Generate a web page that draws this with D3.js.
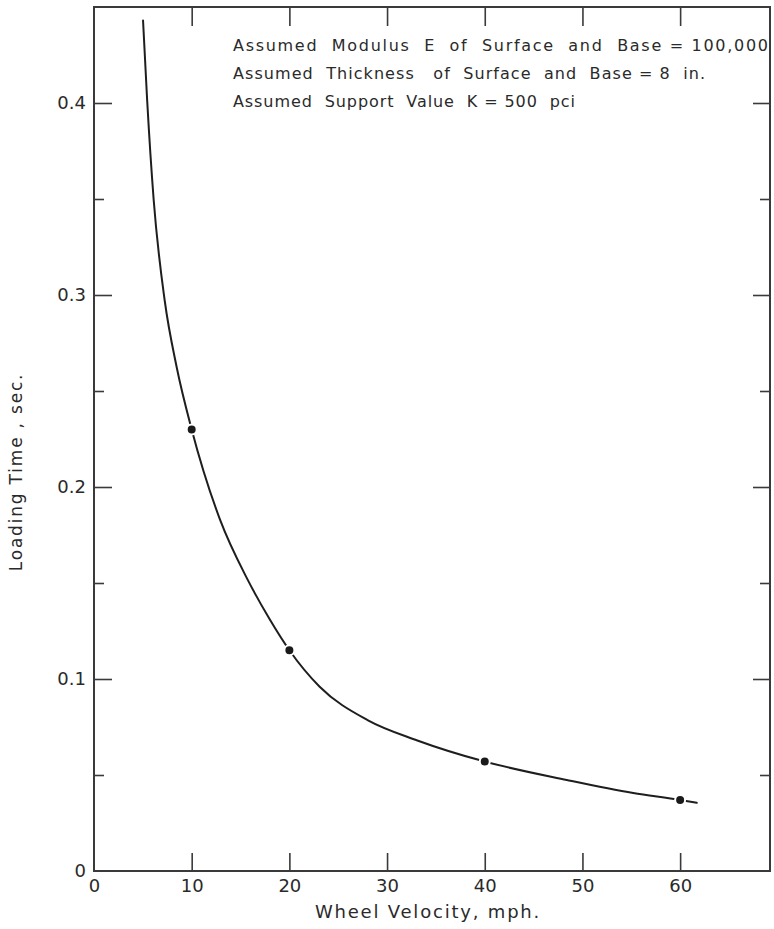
<!DOCTYPE html>
<html>
<head>
<meta charset="utf-8">
<script src="https://cdn.jsdelivr.net/npm/d3@7"></script>
<style>
  html, body { margin: 0; padding: 0; background: #fff; }
  svg text { font-family: "DejaVu Sans", sans-serif; fill: #2a2a2a; }
</style>
</head>
<body>
<svg id="chart" width="774" height="929"></svg>
<script>
// Loading time vs. wheel velocity (hand-faired curve through the computed points)
const curveVelocity = [5.02, 5.44, 6.11, 7.23, 8.46, 10.0, 12.9, 15.7, 18.0, 20.0, 23.1, 28.0, 33.1, 40.0, 48.4, 55.2, 60.0, 61.7];
const curveTime     = [0.443, 0.4016, 0.3495, 0.2974, 0.2625, 0.230, 0.183, 0.152, 0.131, 0.115, 0.096, 0.0786, 0.068, 0.057, 0.0474, 0.0406, 0.037, 0.0355];

const pointVelocity = [10, 20, 40, 60];
const pointTime     = [0.230, 0.115, 0.057, 0.037];

const xTicks = [0, 10, 20, 30, 40, 50, 60];
const yMajorTicks = [0, 0.1, 0.2, 0.3, 0.4];
const yMinorTicks = [0.05, 0.15, 0.25, 0.35];

const notes = [
  "Assumed  Modulus  E  of  Surface  and  Base = 100,000",
  "Assumed  Thickness   of  Surface  and  Base = 8  in.",
  "Assumed  Support  Value  K = 500  pci"
];

const svg = d3.select("#chart");
const plotLeft = 94, plotRight = 770, plotTop = 7, plotBottom = 871;

const x = d3.scaleLinear().domain([0, 69.2]).range([plotLeft, plotRight]);
const y = d3.scaleLinear().domain([0, 0.45]).range([plotBottom, plotTop]);

const axisColor = "#3a3a3a";

function styleAxis(g) {
  g.select(".domain").remove();
  g.selectAll(".tick line").attr("stroke", axisColor).attr("stroke-width", 1.6);
  g.selectAll(".tick text").attr("font-size", 18).attr("fill", "#2a2a2a")
    .style("font-family", "DejaVu Sans, sans-serif");
}

// bottom axis: inward ticks at 10..60, labels 0..60
svg.append("g")
  .attr("transform", `translate(0,${plotBottom})`)
  .call(d3.axisBottom(x).tickValues(xTicks).tickSize(-18).tickPadding(8).tickFormat(d3.format("d")))
  .call(styleAxis)
  .call(g => g.selectAll(".tick").filter(d => d === 0).select("line").remove());

// top axis: ticks only
svg.append("g")
  .attr("transform", `translate(0,${plotTop})`)
  .call(d3.axisTop(x).tickValues(xTicks.filter(d => d > 0)).tickSize(-19).tickFormat(""))
  .call(styleAxis);

// left axis: major with labels, minor without
svg.append("g")
  .attr("transform", `translate(${plotLeft},0)`)
  .call(d3.axisLeft(y).tickValues(yMajorTicks).tickSize(-18).tickPadding(8)
    .tickFormat(d => d === 0 ? "0" : d3.format(".1f")(d)))
  .call(styleAxis)
  .call(g => g.selectAll(".tick").filter(d => d === 0).select("line").remove());

svg.append("g")
  .attr("transform", `translate(${plotLeft},0)`)
  .call(d3.axisLeft(y).tickValues(yMinorTicks).tickSize(-10).tickFormat(""))
  .call(styleAxis);

// right axis: ticks only
svg.append("g")
  .attr("transform", `translate(${plotRight},0)`)
  .call(d3.axisRight(y).tickValues(yMajorTicks.filter(d => d > 0)).tickSize(-17).tickFormat(""))
  .call(styleAxis);

svg.append("g")
  .attr("transform", `translate(${plotRight},0)`)
  .call(d3.axisRight(y).tickValues(yMinorTicks).tickSize(-10).tickFormat(""))
  .call(styleAxis);

// frame
svg.append("rect")
  .attr("x", plotLeft).attr("y", plotTop)
  .attr("width", plotRight - plotLeft).attr("height", plotBottom - plotTop)
  .attr("fill", "none").attr("stroke", axisColor).attr("stroke-width", 2);

// faired curve
const curveData = curveVelocity.map((v, i) => [v, curveTime[i]]);
svg.append("path")
  .datum(curveData)
  .attr("fill", "none")
  .attr("stroke", "#1e1e1e")
  .attr("stroke-width", 2)
  .attr("stroke-linecap", "round")
  .attr("d", d3.line().x(d => x(d[0])).y(d => y(d[1])).curve(d3.curveMonotoneX));

// computed points
svg.append("g")
  .selectAll("circle")
  .data(pointVelocity.map((v, i) => [v, pointTime[i]]))
  .join("circle")
  .attr("cx", d => x(d[0]))
  .attr("cy", d => y(d[1]))
  .attr("r", 5)
  .attr("fill", "#1a1a1a")
  .attr("stroke", "#fff")
  .attr("stroke-width", 2);

// notes
const noteWidths = [535, 472, 342];
svg.append("g")
  .selectAll("text")
  .data(notes)
  .join("text")
  .attr("x", 233)
  .attr("y", (d, i) => 51 + i * 28)
  .attr("font-size", 16)
  .attr("textLength", (d, i) => noteWidths[i])
  .attr("lengthAdjust", "spacing")
  .style("white-space", "pre")
  .text(d => d);

// axis titles
svg.append("text")
  .attr("x", 428).attr("y", 918)
  .attr("text-anchor", "middle")
  .attr("font-size", 18)
  .attr("letter-spacing", 1.8)
  .text("Wheel Velocity, mph.");

svg.append("text")
  .attr("transform", "translate(22,472) rotate(-90)")
  .attr("text-anchor", "middle")
  .attr("font-size", 17)
  .attr("letter-spacing", 1.8)
  .text("Loading Time , sec.");
</script>
</body>
</html>
